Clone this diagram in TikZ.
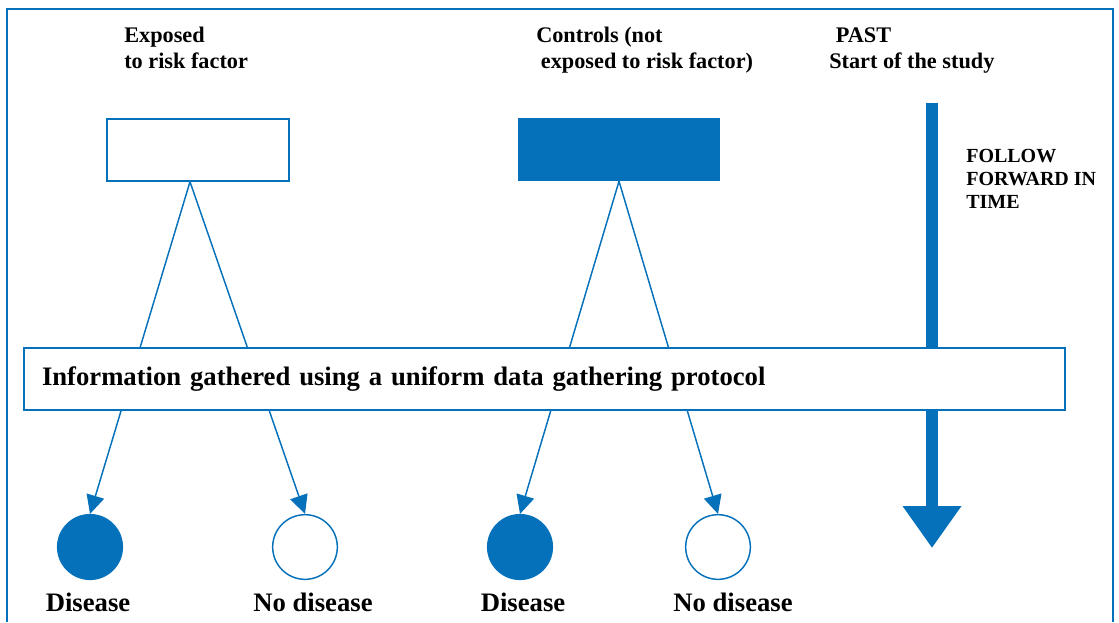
\documentclass[tikz,border=0pt]{standalone}
\usepackage{fontspec}
\setmainfont{Liberation Serif}
\usetikzlibrary{arrows.meta}
\definecolor{studyblue}{RGB}{5,113,186}
\tikzset{
  frame/.style={draw=studyblue,line width=2pt},
  group/.style={draw=studyblue,line width=1.1pt,inner sep=0pt,minimum width=136.5pt,minimum height=46.5pt},
  outcome/.style={circle,draw=studyblue,line width=1.1pt,inner sep=0pt,minimum size=48.5pt},
  link/.style={draw=studyblue,line width=1.1pt,-{Triangle[length=14pt,width=13.5pt]}},
  toptext/.style={anchor=base west,align=left,inner sep=0pt,font=\bfseries\fontsize{16.7}{19.5}\selectfont},
  outtext/.style={anchor=base,inner sep=0pt,font=\bfseries\fontsize{20}{24}\selectfont}
}
\begin{document}
\begin{tikzpicture}[x=0.75pt,y=-0.75pt]
\useasboundingbox (0,0) rectangle (1119,622);
\draw[frame] (7,622) -- (7,9) -- (1113,9) -- (1113,622);

% headings (anchored on the last line)
\node[toptext] (exptxt) at (124,68) {Exposed\\to risk factor};
\node[toptext] (ctltxt) at (536,68) {Controls (not\\\hspace{3.5pt}exposed to risk factor)};
\node[toptext] (pasttxt) at (829,68) {\hspace{5pt}PAST\\Start of the study};

% the two groups
\node[group] (exp) at (198,150) {};
\node[group,fill=studyblue,minimum width=150pt] (ctl) at (619,149.5) {};

% outcomes
\node[outcome,fill=studyblue] (dis1) at (90,547) {};
\node[outcome] (nodis1) at (305,547) {};
\node[outcome,fill=studyblue] (dis2) at (520,547) {};
\node[outcome] (nodis2) at (718,547) {};
\node[outtext] (dis1txt) at (88,611) {Disease};
\node[outtext] (nodis1txt) at (313,611) {No disease};
\node[outtext] (dis2txt) at (523,611) {Disease};
\node[outtext] (nodis2txt) at (733,611) {No disease};

\draw[link] ([xshift=-6pt]exp.south) -- (dis1.north);
\draw[link] ([xshift=-6pt]exp.south) -- (nodis1.north);
\draw[link] (ctl.south) -- (dis2.north);
\draw[link] (ctl.south) -- (nodis2.north);

% time
\coordinate (past) at (932,103);
\coordinate (future) at (932,548);
\draw[studyblue,line width=8.6pt,-{Triangle[length=31.5pt,width=42pt]}] (past) -- (future);
\node[toptext,font=\bfseries\fontsize{15}{17.25}\selectfont] (followtxt) at (966,208) {FOLLOW\\FORWARD IN\\TIME};

% protocol box on top of the lines
\node[draw=studyblue,fill=white,line width=1.1pt,minimum width=780.75pt,minimum height=46.5pt,
      text width=753.75pt,inner xsep=13.5pt,align=left,font=\bfseries\fontsize{20}{24}\selectfont]
      (info) at (544.5,379) {Information gathered using a uniform data gathering protocol};
\end{tikzpicture}
\end{document}
